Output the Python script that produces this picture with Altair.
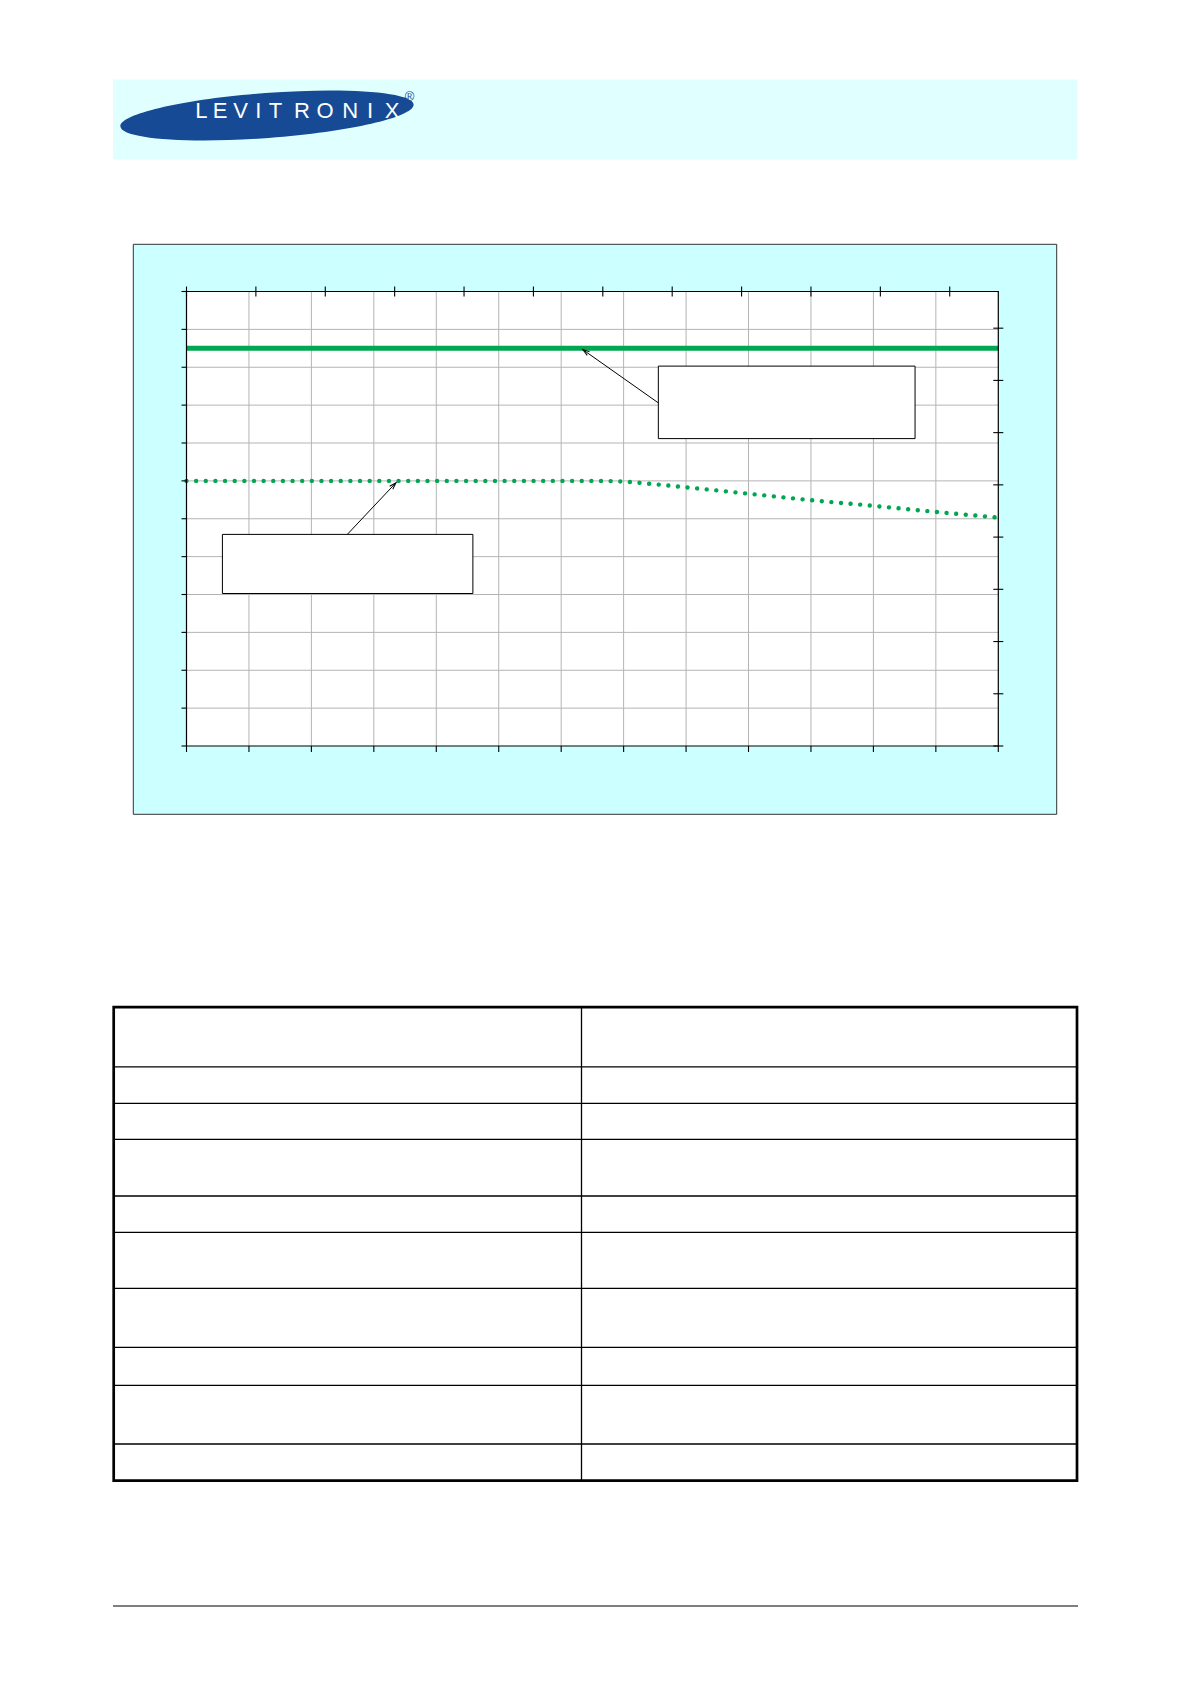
import math
import altair as alt
import pandas as pd

# ---------------- data (chart values) ----------------
solid_x = [0, 13]
solid_y = [10.5, 10.5]
dotted_x = [0, 1, 2, 3, 4, 5, 6, 6.5, 7, 7.5, 8, 9, 10, 11, 12, 13]
dotted_y = [7.0, 7.0, 7.0, 7.0, 7.0, 7.0, 7.0, 7.0, 6.98, 6.91, 6.83, 6.66, 6.49, 6.34, 6.18, 6.03]
x_grid = list(range(0, 14))
y_grid = list(range(0, 13))
top_ticks = list(range(0, 12))          # secondary x units
top_factor = 1 / 0.9                     # secondary -> primary
right_ticks = [0, 5, 10, 15, 20, 25, 30, 35, 40]   # psi
right_factor = 1 / (14.5038 * 0.25)      # psi -> primary grid units
logo_letters = list("LEVITRONIX")

# ---------------- layout (positions / styles) ----------------
M = 8
L, R, T, B = 186.5, 998.3, 291.5, 746.0
GREEN = "#00A651"


def p(v):
    return v - M


XS = alt.Scale(domain=[0, 13], range=[p(L), p(R)], nice=False, zero=False)
YS = alt.Scale(domain=[0, 12], range=[p(B), p(T)], nice=False, zero=False)

logo_letter_x = [201.3, 220.1, 240.6, 258.4, 275.4, 302.0, 325.0, 350.2, 370.1, 392.0]

bg_rects = pd.DataFrame({
    "x0": [p(113), p(133.3)],
    "x1": [p(1077.5), p(1056.7)],
    "y0": [p(79.5), p(244.3)],
    "y1": [p(159.5), p(814.3)],
    "fill": ["#E0FFFF", "#CCFFFF"],
    "stroke": ["transparent", "#333333"],
    "sw": [0, 1],
})

ann_boxes = pd.DataFrame({
    "x0": [7.556, 0.575], "x1": [11.667, 4.586],
    "y0": [10.03, 5.587], "y1": [8.116, 4.026],
})
arrows = pd.DataFrame({
    "x0": [7.556, 2.575], "y0": [9.059, 5.587],
    "x1": [6.346, 3.355], "y1": [10.466, 6.952],
})
ux = (R - L) / 13
uy = (B - T) / 12
arrows["ang"] = [
    (math.degrees(math.atan2((a.x1 - a.x0) * ux, (a.y1 - a.y0) * uy)) + 360) % 360
    for a in arrows.itertuples()
]

table_rows = [1066.8, 1103.3, 1139.3, 1196.0, 1232.3, 1288.3, 1347.3, 1385.3, 1444.0]
TBL = dict(x0=113.7, x1=1077.0, y0=1007.2, y1=1480.7, col=581.5)

# ---------------- layers ----------------
bg = alt.Chart(bg_rects).mark_rect().encode(
    x=alt.X("x0:Q", scale=None, axis=None), x2="x1:Q",
    y=alt.Y("y0:Q", scale=None, axis=None), y2="y1:Q",
    fill=alt.Fill("fill:N", scale=None),
    stroke=alt.Stroke("stroke:N", scale=None),
    strokeWidth=alt.StrokeWidth("sw:Q", scale=None),
)

ellipse_path = "M-1,0A1,0.153,0,1,0,1,0A1,0.153,0,1,0,-1,0Z"
logo = alt.Chart(pd.DataFrame({"k": [0]})).mark_point(
    shape=ellipse_path, filled=True, fill="#174A95", strokeWidth=0,
    size=294 ** 2, angle=355.7, opacity=1,
).encode(x=alt.value(p(267)), y=alt.value(p(115.5)))

logo_text = alt.Chart(pd.DataFrame({"ch": logo_letters, "lx": [p(v) for v in logo_letter_x]})).mark_text(
    font="Liberation Sans", fontSize=22, color="white", align="center", baseline="alphabetic",
).encode(x=alt.X("lx:Q", scale=None, axis=None), y=alt.value(p(118)), text="ch:N")

reg = alt.Chart(pd.DataFrame({"t": ["®"]})).mark_text(
    font="Liberation Sans", fontSize=13, color="#1B4A96", align="center", baseline="middle",
).encode(x=alt.value(p(409.5)), y=alt.value(p(96.5)), text="t:N")

frame_df = pd.DataFrame({"x0": [0], "x1": [13], "y0": [0], "y1": [12]})
plot_bg = alt.Chart(frame_df).mark_rect(fill="white").encode(
    x=alt.X("x0:Q", scale=XS, axis=None), x2="x1:Q",
    y=alt.Y("y0:Q", scale=YS, axis=None), y2="y1:Q",
)

vgrid = alt.Chart(pd.DataFrame({"v": x_grid[1:-1]})).mark_rule(color="#B4B4B4", strokeWidth=1).encode(
    x=alt.X("v:Q", scale=XS, axis=None), y=alt.value(p(T)), y2=alt.value(p(B)),
)
hgrid = alt.Chart(pd.DataFrame({"v": y_grid[1:-1]})).mark_rule(color="#B4B4B4", strokeWidth=1).encode(
    y=alt.Y("v:Q", scale=YS, axis=None), x=alt.value(p(L)), x2=alt.value(p(R)),
)

frame = alt.Chart(frame_df).mark_rect(fill="transparent", stroke="black", strokeWidth=1.2).encode(
    x=alt.X("x0:Q", scale=XS, axis=None), x2="x1:Q",
    y=alt.Y("y0:Q", scale=YS, axis=None), y2="y1:Q",
)

tick_style = dict(color="black", strokeWidth=1.1)
left_ticks = alt.Chart(pd.DataFrame({"v": y_grid})).mark_rule(**tick_style).encode(
    y=alt.Y("v:Q", scale=YS, axis=None), x=alt.value(p(L) - 5), x2=alt.value(p(L)),
)
bottom_ticks = alt.Chart(pd.DataFrame({"v": x_grid})).mark_rule(**tick_style).encode(
    x=alt.X("v:Q", scale=XS, axis=None), y=alt.value(p(B)), y2=alt.value(p(B) + 6),
)
top_df = pd.DataFrame({"s": top_ticks})
top_df["v"] = top_df["s"] * top_factor
top_t = alt.Chart(top_df).mark_rule(**tick_style).encode(
    x=alt.X("v:Q", scale=XS, axis=None), y=alt.value(p(T) - 5), y2=alt.value(p(T) + 5),
)
right_df = pd.DataFrame({"psi": right_ticks})
right_df["v"] = right_df["psi"] * right_factor
right_t = alt.Chart(right_df).mark_rule(**tick_style).encode(
    y=alt.Y("v:Q", scale=YS, axis=None), x=alt.value(p(R) - 5), x2=alt.value(p(R) + 5),
)

solid = alt.Chart(pd.DataFrame({"x": solid_x, "y": solid_y})).mark_line(
    color=GREEN, strokeWidth=5, strokeCap="butt",
).encode(x=alt.X("x:Q", scale=XS, axis=None), y=alt.Y("y:Q", scale=YS, axis=None))

dotted = alt.Chart(pd.DataFrame({"x": dotted_x, "y": dotted_y})).mark_line(
    color=GREEN, strokeWidth=4.4, strokeCap="round", strokeDash=[0.01, 9.63], interpolate="monotone",
).encode(x=alt.X("x:Q", scale=XS, axis=None), y=alt.Y("y:Q", scale=YS, axis=None))

arrow_lines = alt.Chart(arrows).mark_rule(color="black", strokeWidth=1).encode(
    x=alt.X("x0:Q", scale=XS, axis=None), x2="x1:Q",
    y=alt.Y("y0:Q", scale=YS, axis=None), y2="y1:Q",
)
arrow_heads = alt.Chart(arrows).mark_point(
    shape="M-0.55,1.8L0,0L0.55,1.8", filled=False, stroke="black", strokeWidth=1, size=60, opacity=1,
).encode(
    x=alt.X("x1:Q", scale=XS, axis=None), y=alt.Y("y1:Q", scale=YS, axis=None),
    angle=alt.Angle("ang:Q", scale=None),
)
boxes = alt.Chart(ann_boxes).mark_rect(fill="white", stroke="black", strokeWidth=1).encode(
    x=alt.X("x0:Q", scale=XS, axis=None), x2="x1:Q",
    y=alt.Y("y0:Q", scale=YS, axis=None), y2="y1:Q",
)

row_lines = alt.Chart(pd.DataFrame({"ty": [p(v) for v in table_rows]})).mark_rule(
    color="black", strokeWidth=1.3,
).encode(y=alt.Y("ty:Q", scale=None, axis=None), x=alt.value(p(TBL["x0"])), x2=alt.value(p(TBL["x1"])))
col_line = alt.Chart(pd.DataFrame({"k": [0]})).mark_rule(color="black", strokeWidth=1.3).encode(
    x=alt.value(p(TBL["col"])), y=alt.value(p(TBL["y0"])), y2=alt.value(p(TBL["y1"])),
)
tbl_border = alt.Chart(pd.DataFrame({"k": [0]})).mark_rect(
    fill="transparent", stroke="black", strokeWidth=2.7,
).encode(
    x=alt.value(p(TBL["x0"])), x2=alt.value(p(TBL["x1"])),
    y=alt.value(p(TBL["y0"])), y2=alt.value(p(TBL["y1"])),
)
footer = alt.Chart(pd.DataFrame({"k": [0]})).mark_rule(color="black", strokeWidth=1.2).encode(
    x=alt.value(p(113)), x2=alt.value(p(1078)), y=alt.value(p(1606)),
)

chart = alt.layer(
    bg, logo, logo_text, reg,
    plot_bg, vgrid, hgrid,
    solid, dotted,
    frame, left_ticks, bottom_ticks, top_t, right_t,
    arrow_lines, arrow_heads, boxes,
    row_lines, col_line, tbl_border, footer,
).properties(
    width=1170, height=1660, padding=0,
    autosize=alt.AutoSizeParams(type="none"),
    background="white",
).configure_view(stroke=None)

chart.save("out.html", embed_options={"renderer": "svg", "actions": False})
